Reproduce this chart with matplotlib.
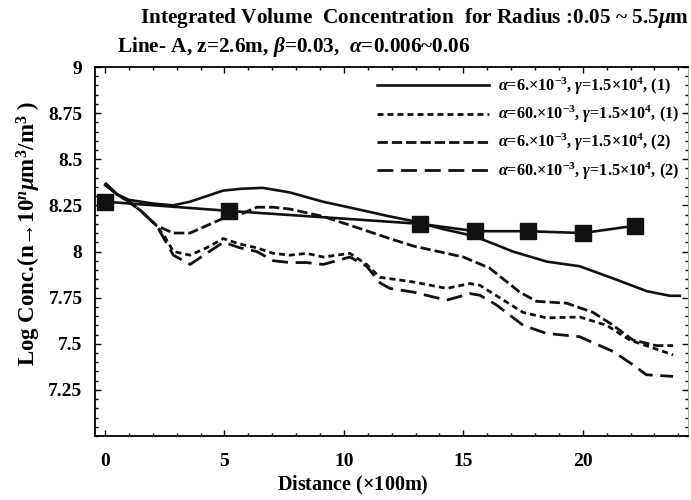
import numpy as np
import matplotlib
matplotlib.use('Agg')
import matplotlib.pyplot as plt

plt.rcParams['font.family'] = ['Liberation Serif', 'DejaVu Serif']
plt.rcParams['font.weight'] = 'bold'
plt.rcParams['axes.labelweight'] = 'bold'
plt.rcParams['mathtext.fontset'] = 'custom'
plt.rcParams['mathtext.rm'] = 'Liberation Serif:bold'
plt.rcParams['mathtext.it'] = 'Liberation Serif:italic:bold'
plt.rcParams['mathtext.bf'] = 'Liberation Serif:bold'
plt.rcParams['lines.scale_dashes'] = False

# 测量点 (squares)
dist_sq = [0, 5.2, 13.2, 15.5, 17.7, 20.0, 22.2]
conc_sq = [8.27, 8.22, 8.15, 8.11, 8.11, 8.10, 8.14]

# alpha=6e-3, (1)  solid
dist_a = [0, 0.5, 1.0, 1.5, 2.0, 2.85, 3.56, 4.25, 4.94, 5.7, 6.6, 7.74, 9.12, 10.54,
          11.92, 12.9, 14.2, 15.4, 16.3, 17.07, 18.5, 19.87, 21.25, 22.68, 23.64, 24.06]
conc_a = [8.36, 8.31, 8.28, 8.27, 8.26, 8.25, 8.27, 8.30, 8.33, 8.34, 8.345, 8.32, 8.27, 8.23,
          8.19, 8.165, 8.12, 8.085, 8.04, 8.00, 7.945, 7.92, 7.855, 7.785, 7.76, 7.76]

# alpha=60e-3, (1)  short dash
dist_b = [0, 0.5, 1.0, 1.5, 2.16, 2.5, 2.86, 3.56, 4.25, 4.95, 5.65, 6.35, 7.04, 7.74, 8.44,
          9.13, 10.25, 10.95, 11.51, 12.9, 14.3, 15.27, 15.69, 16.39, 17.5, 18.48, 19.87,
          21.0, 21.97, 23.1, 23.78]
conc_b = [8.37, 8.31, 8.27, 8.22, 8.14, 8.08, 8.00, 7.98, 8.02, 8.07, 8.04, 8.02, 7.99, 7.98, 7.99,
          7.97, 7.99, 7.93, 7.86, 7.835, 7.80, 7.826, 7.817, 7.76, 7.67, 7.64, 7.645,
          7.60, 7.52, 7.47, 7.44]

# alpha=6e-3, (2)  dash-dot
dist_c = [0, 0.5, 1.0, 1.5, 2.16, 2.86, 3.56, 4.25, 4.95, 5.65, 6.35, 7.04, 7.74, 8.44, 9.13,
          10.54, 11.92, 12.9, 14.3, 15.0, 16.1, 17.36, 18.06, 19.32, 20.43, 21.27, 22.1,
          23.08, 23.78]
conc_c = [8.37, 8.31, 8.27, 8.22, 8.14, 8.10, 8.10, 8.14, 8.18, 8.20, 8.24, 8.24, 8.23, 8.21, 8.19,
          8.13, 8.07, 8.03, 7.99, 7.97, 7.91, 7.78, 7.73, 7.72, 7.67, 7.60, 7.52,
          7.49, 7.49]

# alpha=60e-3, (2)  long dash
dist_d = [0, 0.5, 1.0, 1.5, 2.16, 2.86, 3.56, 4.25, 4.95, 5.65, 6.35, 7.04, 7.74, 8.44, 9.13,
          10.25, 10.95, 11.51, 11.92, 12.9, 14.3, 15.27, 15.69, 16.39, 17.5, 18.48, 19.87,
          21.27, 22.1, 22.66, 23.78]
conc_d = [8.37, 8.31, 8.27, 8.22, 8.14, 7.98, 7.93, 7.99, 8.05, 8.02, 8.00, 7.95, 7.94, 7.94, 7.93,
          7.97, 7.92, 7.83, 7.80, 7.78, 7.736, 7.772, 7.763, 7.71, 7.60, 7.556, 7.538,
          7.458, 7.386, 7.332, 7.323]

labels = [r'$\alpha$=6.$\times$10$^{-3}$, $\gamma$=1.5$\times$10$^{4}$, (1)',
          r'$\alpha$=60.$\times$10$^{-3}$, $\gamma$=1.5$\times$10$^{4}$, (1)',
          r'$\alpha$=6.$\times$10$^{-3}$, $\gamma$=1.5$\times$10$^{4}$, (2)',
          r'$\alpha$=60.$\times$10$^{-3}$, $\gamma$=1.5$\times$10$^{4}$, (2)']
xticks = [0, 5, 10, 15, 20]
yticks = [7.25, 7.5, 7.75, 8, 8.25, 8.5, 8.75, 9]
ytick_labels = ['7.25', '7.5', '7.75', '8', '8.25', '8.5', '8.75', '9']

fig = plt.figure(figsize=(6.91, 5.0), dpi=100)
ax = fig.add_axes([0.1375, 0.128, 0.858, 0.738])
k = '#111111'

la, = ax.plot(dist_a, conc_a, color=k, lw=1.9)
lb, = ax.plot(dist_b, conc_b, color=k, lw=2.0, dashes=(4.3, 2.9))
lc, = ax.plot(dist_c, conc_c, color=k, lw=2.0, dashes=(7.5, 2.8))
ld, = ax.plot(dist_d, conc_d, color=k, lw=2.0, dashes=(11.5, 5.5))
ax.plot(dist_sq, conc_sq, color=k, lw=1.9, marker='s', markersize=11)

ax.legend([la, lb, lc, ld], labels, loc='upper left', bbox_to_anchor=(0.4755, 0.976),
          frameon=False, handlelength=6.9, handletextpad=0.55, labelspacing=0.42,
          borderpad=0, borderaxespad=0, fontsize=11.7)

ax.set_xlim(-0.42, 24.4)
ax.set_ylim(7.0, 9.0)
ax.set_xticks(xticks)
ax.set_xticks(np.arange(0, 25, 1), minor=True)
ax.set_yticks(yticks)
ax.set_yticklabels(ytick_labels)
ax.set_yticks(np.arange(7.0, 9.0, 0.05), minor=True)
ax.tick_params(which='both', direction='in', top=True, right=True, labelsize=14, width=1)
ax.tick_params(which='major', length=4)
ax.tick_params(which='minor', length=2)
ax.tick_params(axis='x', pad=12)
ax.tick_params(axis='y', pad=9)
for s in ['left', 'bottom', 'top']:
    ax.spines[s].set_linewidth(1.3)
ax.spines['right'].set_linewidth(0.6)
ax.spines['right'].set_color('#999999')

ax.set_xlabel(r'Distance ($\times$100m)', fontsize=14.5)
ax.xaxis.set_label_coords(0.435, -0.103)
ax.set_ylabel(r'Log Conc.(n→10$^{n}$$\mu$m$^{3}$/m$^{3}$ )', fontsize=16.5)
ax.yaxis.set_label_coords(-0.088, 0.55)

fig.text(0.2026, 0.964, r'Integrated Volume  Concentration  for Radius :0.05 ~ 5.5$\mu$m',
         fontsize=15.3, va='center', ha='left')
fig.text(0.169, 0.906, r'Line- A, z=2.6m, $\beta$=0.03,  $\alpha$=0.006~0.06',
         fontsize=15.3, va='center', ha='left')

fig.savefig('out.png', dpi=100)
